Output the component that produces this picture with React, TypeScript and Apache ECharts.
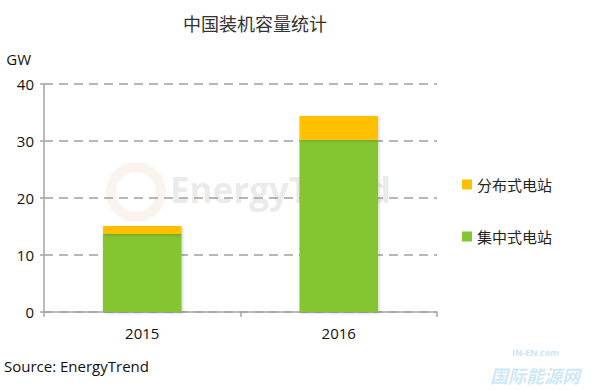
import React, { useEffect, useRef } from "react";
import * as echarts from "echarts";

const categories = ["2015", "2016"];
const centralized = [13.7, 30.2]; // 集中式电站
const distributed = [1.4, 4.2]; // 分布式电站
const seriesNames = ["集中式电站", "分布式电站"];
const title = "中国装机容量统计";
const unitLabel = "GW";
const sourceText = "Source: EnergyTrend";

const latin = "'Open Sans', 'Noto Sans CJK SC', sans-serif";
const cjk = "'Noto Sans CJK SC', sans-serif";

export default function App() {
  const ref = useRef<HTMLDivElement>(null);
  useEffect(() => {
    if (!ref.current) return;
    const chart = echarts.init(ref.current, null, { renderer: "svg" });
    chart.setOption({
      animation: false,
      backgroundColor: "#ffffff",
      title: {
        text: title,
        left: 250,
        textAlign: "center",
        top: 9,
        textStyle: { fontFamily: cjk, fontSize: 18, fontWeight: "normal", color: "#333333" },
      },
      legend: {
        orient: "vertical",
        left: 457,
        top: 172,
        itemWidth: 10,
        itemHeight: 10,
        itemGap: 37,
        icon: "rect",
        data: [seriesNames[1], seriesNames[0]],
        textStyle: { fontFamily: cjk, fontSize: 15, color: "#222222", padding: [0, 0, 0, 0] },
      },
      grid: { left: 44, right: 163, top: 84, bottom: 78 },
      xAxis: {
        type: "category",
        data: categories,
        axisLine: { lineStyle: { color: "#a6a6a6", width: 1.5 } },
        axisTick: { show: true, length: 5, lineStyle: { color: "#a6a6a6", width: 1.5 } },
        axisLabel: { fontFamily: latin, fontSize: 15, color: "#111111", margin: 13 },
      },
      yAxis: {
        type: "value",
        min: 0,
        max: 40,
        interval: 10,
        name: unitLabel,
        nameLocation: "end",
        nameGap: 18,
        nameTextStyle: { fontFamily: latin, fontSize: 15, color: "#111111", align: "right", padding: [0, 13, 0, 0] },
        axisLine: { show: true, lineStyle: { color: "#a6a6a6", width: 1.5 } },
        axisTick: { show: true, length: 4, lineStyle: { color: "#a6a6a6", width: 1.5 } },
        axisLabel: { fontFamily: latin, fontSize: 15, color: "#111111", margin: 10 },
        splitLine: { lineStyle: { color: "#a0a0a0", type: [9, 6], width: 1.5 } },
      },
      series: [
        {
          name: seriesNames[0],
          type: "bar",
          stack: "total",
          barWidth: "40%",
          data: centralized,
          itemStyle: { color: "#86c532", shadowBlur: 3, shadowColor: "rgba(0,0,0,0.2)", shadowOffsetX: 1, shadowOffsetY: 1 },
        },
        {
          name: seriesNames[1],
          type: "bar",
          stack: "total",
          barWidth: "40%",
          data: distributed,
          itemStyle: { color: "#ffc000", shadowBlur: 3, shadowColor: "rgba(0,0,0,0.2)", shadowOffsetX: 1, shadowOffsetY: 1 },
        },
      ],
      graphic: [
        {
          type: "text",
          left: 4,
          top: 358,
          style: { text: sourceText, font: `15px ${latin}`, fill: "#111111" },
        },
        {
          type: "circle",
          shape: { cx: 136, cy: 192, r: 25 },
          style: { fill: "none", stroke: "rgba(225,190,160,0.18)", lineWidth: 10 },
          z: -1,
        },
        {
          type: "text",
          left: 170,
          top: 172,
          style: { text: "EnergyTrend", font: `bold 35px ${latin}`, fill: "rgba(150,150,150,0.2)" },
          z: -1,
        },
        {
          type: "text",
          left: 512,
          top: 348,
          style: { text: "IN-EN.com", font: `bold 9px ${latin}`, fill: "rgba(110,190,225,0.4)" },
        },
        {
          type: "text",
          left: 490,
          top: 366,
          style: { text: "国际能源网", font: `italic bold 18px ${cjk}`, fill: "rgba(110,190,225,0.35)" },
        },
      ],
    });
    return () => chart.dispose();
  }, []);
  return <div ref={ref} style={{ width: 600, height: 390, position: "absolute", left: 0, top: 0 }} />;
}
